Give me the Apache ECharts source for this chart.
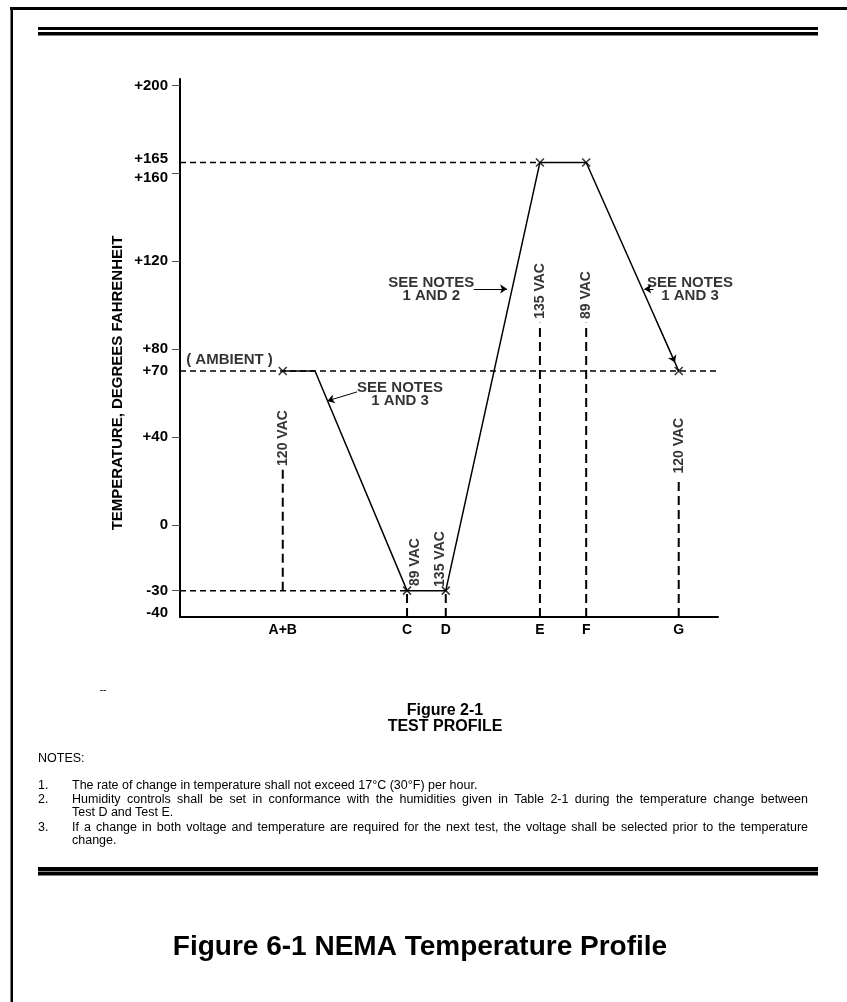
<!DOCTYPE html>
<html>
<head>
<meta charset="utf-8">
<title>NEMA Temperature Profile</title>
<script src="https://cdn.jsdelivr.net/npm/echarts@6/dist/echarts.min.js"></script>
<style>
  html, body { margin: 0; padding: 0; background: #fff; }
  #page { position: relative; width: 847px; height: 1002px; overflow: hidden; font-family: "Liberation Sans", Arial, sans-serif; color: #000; }
  #chart { position: absolute; left: 0; top: 0; width: 847px; height: 1002px; }
  .n { position: absolute; font-size: 12.5px; line-height: 14px; white-space: nowrap; }
  .j { width: 736px; white-space: normal; text-align: justify; text-align-last: justify; }
</style>
</head>
<body>
<div id="page">
  <div id="chart"></div>
  <div class="n" style="left:38px;top:751px">NOTES:</div>
  <div class="n" style="left:38px;top:778px">1.</div>
  <div class="n" style="left:72px;top:778px">The rate of change in temperature shall not exceed 17°C (30°F) per hour.</div>
  <div class="n" style="left:38px;top:792px">2.</div>
  <div class="n j" style="left:72px;top:792px">Humidity controls shall be set in conformance with the humidities given in Table 2-1 during the temperature change between</div>
  <div class="n" style="left:72px;top:805px">Test D and Test E.</div>
  <div class="n" style="left:38px;top:820px">3.</div>
  <div class="n j" style="left:72px;top:820px">If a change in both voltage and temperature are required for the next test, the voltage shall be selected prior to the temperature</div>
  <div class="n" style="left:72px;top:833px">change.</div>
</div>
<script>
// Figure 6-1 NEMA temperature profile (schematic; x is test sequence position)

// test points
var testNames = ['A+B', 'C', 'D', 'E', 'F', 'G'];
var testPos = [19.1, 42.2, 49.4, 66.9, 75.5, 92.7];
var testTemp = [70, -30, -30, 165, 165, 70];
var testVolts = ['120 VAC', '89 VAC', '135 VAC', '135 VAC', '89 VAC', '120 VAC'];

// profile path: ambient hold, ramp down, cold hold, ramp up, hot hold, ramp down
var profileX = [19.1, 25.1, 42.2, 49.4, 66.9, 75.5, 92.7];
var profileY = [70, 70, -30, -30, 165, 165, 70];

// dashed reference levels (deg F) and where they stop
var levelTemp = [165, 70, -30];
var levelEnd = [66.9, 100, 42.2];

// vertical voltage lines (deg F from / to) and their label anchors
var voltLineFrom = [-30, -42, -42, -42, -42, -42];
var voltLineTo = [26, -30, -30, 92, 92, 21];
var voltLabelX = [19.1, 43.7, 48.3, 66.9, 75.5, 92.7];
var voltLabelY = [39.5, -17, -15.6, 106.5, 104.6, 36];

// callouts
var noteText = ['( AMBIENT )', 'SEE NOTES\n1 AND 3', 'SEE NOTES\n1 AND 2', 'SEE NOTES\n1 AND 3'];
var noteX = [9.2, 40.9, 46.7, 94.8];
var noteY = [75, 59.3, 107.4, 107.4];
var arrowFromX = [32.9, 54.6, 88.0, 88.5];
var arrowFromY = [60.5, 107.4, 107.4, 93.2];
var arrowToX = [27.4, 60.8, 86.3, 92.0];
var arrowToY = [56.4, 107.4, 107.4, 73.9];

// axis ticks
var yTickLabels = [200, 165, 160, 120, 80, 70, 40, 0, -30, -40];
var yTicks = [200, 160, 120, 80, 40, 0, -30];

var FONT = "'Liberation Sans', Arial, sans-serif";

var chart = echarts.init(document.getElementById('chart'));

var series = [];

// dashed horizontal levels
levelTemp.forEach(function(t, i) {
  series.push({
    type: 'line', silent: true, symbol: 'none', z: 2,
    data: [[0, t], [levelEnd[i], t]],
    lineStyle: { color: '#000', width: 1.5, type: [6, 4] }
  });
});

// dashed vertical voltage lines
testPos.forEach(function(x, i) {
  series.push({
    type: 'line', silent: true, symbol: 'none', z: 2,
    data: [[x, voltLineFrom[i]], [x, voltLineTo[i]]],
    lineStyle: { color: '#000', width: 2, type: [9, 5] }
  });
});

// the profile
series.push({
  type: 'line', silent: true, symbol: 'none', z: 3,
  data: profileX.map(function(x, i) { return [x, profileY[i]]; }),
  lineStyle: { color: '#000', width: 1.5 }
});

// x markers at test points
series.push({
  type: 'scatter', silent: true, z: 4,
  data: testPos.map(function(x, i) { return [x, testTemp[i]]; }),
  symbol: 'path://M0,0L10,10M10,0L0,10', symbolSize: 8,
  itemStyle: { color: 'none', borderColor: '#000', borderWidth: 1.5 }
});

// rotated voltage labels
series.push({
  type: 'scatter', silent: true, z: 5,
  data: voltLabelX.map(function(x, i) { return { name: testVolts[i], value: [x, voltLabelY[i]] }; }),
  symbol: 'circle', symbolSize: 1, itemStyle: { color: 'transparent' },
  label: {
    show: true, position: 'inside', rotate: 90, formatter: '{b}',
    fontFamily: FONT, fontSize: 14, fontWeight: 'bold', color: '#000'
  }
});

// callout texts
series.push({
  type: 'scatter', silent: true, z: 5,
  data: noteX.map(function(x, i) { return { name: noteText[i], value: [x, noteY[i]] }; }),
  symbol: 'circle', symbolSize: 1, itemStyle: { color: 'transparent' },
  label: {
    show: true, position: 'inside', formatter: '{b}', align: 'center', lineHeight: 13,
    fontFamily: FONT, fontSize: 15, fontWeight: 'bold', color: '#000'
  }
});

// callout arrows
series.push({
  type: 'lines', coordinateSystem: 'cartesian2d', silent: true, z: 5,
  data: arrowFromX.map(function(x, i) {
    return { coords: [[x, arrowFromY[i]], [arrowToX[i], arrowToY[i]]] };
  }),
  symbol: ['none', 'arrow'], symbolSize: 7,
  lineStyle: { color: '#000', width: 1, opacity: 1 }
});

function yLabel(v) {
  var s = v > 0 ? '+' + v : '' + v;
  if (v === 165) return '{up|' + s + '}';
  if (v === 160) return '{dn|' + s + '}';
  return s;
}

var labelFont = { fontFamily: FONT, fontSize: 15, fontWeight: 'bold', color: '#000' };

chart.setOption({
  animation: false,
  backgroundColor: '#fff',
  grid: { left: 180, right: 129, top: 79, bottom: 385 },
  xAxis: {
    type: 'value', min: 0, max: 100,
    axisLine: { show: true, onZero: false, lineStyle: { color: '#000', width: 2 } },
    axisTick: { show: false },
    splitLine: { show: false },
    axisLabel: {
      customValues: testPos, margin: 6,
      fontFamily: FONT, fontSize: 14, fontWeight: 'bold', color: '#000',
      formatter: function(v) { var k = testPos.indexOf(v); return k >= 0 ? testNames[k] : ''; }
    }
  },
  yAxis: {
    type: 'value', min: -42, max: 203,
    axisLine: { show: true, onZero: false, lineStyle: { color: '#000', width: 2 } },
    axisTick: { show: true, customValues: yTicks, length: 8, lineStyle: { color: '#555', width: 1 } },
    splitLine: { show: false },
    axisLabel: {
      customValues: yTickLabels, margin: 12,
      fontFamily: FONT, fontSize: 15, fontWeight: 'bold', color: '#000',
      formatter: yLabel,
      rich: {
        up: Object.assign({ padding: [0, 0, 8, 0] }, labelFont),
        dn: Object.assign({ padding: [8, 0, 0, 0] }, labelFont)
      }
    }
  },
  graphic: [
    // page frame
    { type: 'rect', silent: true, shape: { x: 10, y: 7, width: 837, height: 3 }, style: { fill: '#000' } },
    { type: 'rect', silent: true, shape: { x: 10.5, y: 8, width: 2.5, height: 994 }, style: { fill: '#000' } },
    // double rules
    { type: 'rect', silent: true, shape: { x: 38, y: 27, width: 780, height: 3 }, style: { fill: '#000' } },
    { type: 'rect', silent: true, shape: { x: 38, y: 32, width: 780, height: 3.5 }, style: { fill: '#000' } },
    { type: 'rect', silent: true, shape: { x: 38, y: 867, width: 780, height: 4 }, style: { fill: '#000' } },
    { type: 'rect', silent: true, shape: { x: 38, y: 871, width: 780, height: 1 }, style: { fill: '#888' } },
    { type: 'rect', silent: true, shape: { x: 38, y: 872, width: 780, height: 3.5 }, style: { fill: '#000' } },
    // axis title
    {
      type: 'text', silent: true, x: 118, y: 383, rotation: Math.PI / 2,
      style: { text: 'TEMPERATURE, DEGREES FAHRENHEIT', x: 0, y: 0, textAlign: 'center', textVerticalAlign: 'middle', font: 'bold 15px ' + FONT, fill: '#000' }
    },
    { type: 'text', silent: true, style: { text: '--', x: 103, y: 690, textAlign: 'center', textVerticalAlign: 'middle', font: '10px ' + FONT, fill: '#000' } },
    { type: 'text', silent: true, style: { text: 'Figure 2-1', x: 445, y: 711, textAlign: 'center', textVerticalAlign: 'middle', font: 'bold 16px ' + FONT, fill: '#000' } },
    { type: 'text', silent: true, style: { text: 'TEST PROFILE', x: 445, y: 727, textAlign: 'center', textVerticalAlign: 'middle', font: 'bold 16px ' + FONT, fill: '#000' } },
    { type: 'text', silent: true, style: { text: 'Figure 6-1 NEMA Temperature Profile', x: 420, y: 947, textAlign: 'center', textVerticalAlign: 'middle', font: 'bold 28px ' + FONT, fill: '#000' } }
  ],
  series: series
});
</script>
</body>
</html>
